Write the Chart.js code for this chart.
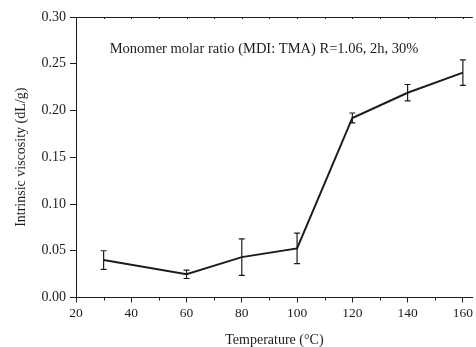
<!DOCTYPE html>
<html>
<head>
<meta charset="utf-8">
<script src="https://cdn.jsdelivr.net/npm/chart.js@4/dist/chart.umd.min.js"></script>
<style>
html,body{margin:0;padding:0;background:#fff;}
#wrap{width:476px;height:347px;position:relative;}
</style>
</head>
<body>
<div id="wrap"><canvas id="c" width="476" height="347"></canvas></div>
<script>
// Data
const temperatures = [30, 60, 80, 100, 120, 140, 160];
const viscosity   = [0.040, 0.0248, 0.0432, 0.0525, 0.192, 0.219, 0.2405];
const errors      = [0.010, 0.0045, 0.0195, 0.0163, 0.0053, 0.0088, 0.0137];
const xTicks = [20, 40, 60, 80, 100, 120, 140, 160];
const xMinorTicks = [30, 50, 70, 90, 110, 130, 150];
const yTicks = [0, 0.05, 0.10, 0.15, 0.20, 0.25, 0.30];
const noteText = 'Monomer molar ratio (MDI: TMA) R=1.06, 2h, 30%';
const xTitle = 'Temperature (°C)';
const yTitle = 'Intrinsic viscosity (dL/g)';

const INK = '#1c1c1c';
const FONT = '"Liberation Serif", "Times New Roman", serif';

const extras = {
  id: 'extras',
  afterDatasetsDraw(chart) {
    const ctx = chart.ctx;
    const xs = chart.scales.x, ys = chart.scales.y;
    const area = chart.chartArea;
    ctx.save();
    // error bars
    ctx.strokeStyle = INK;
    ctx.lineWidth = 1.2;
    temperatures.forEach((t, i) => {
      const px = xs.getPixelForValue(t);
      const yt = ys.getPixelForValue(viscosity[i] + errors[i]);
      const yb = ys.getPixelForValue(viscosity[i] - errors[i]);
      ctx.beginPath();
      ctx.moveTo(px, yt); ctx.lineTo(px, yb);
      ctx.moveTo(px - 3, yt); ctx.lineTo(px + 3, yt);
      ctx.moveTo(px - 3, yb); ctx.lineTo(px + 3, yb);
      ctx.stroke();
    });
    // top border
    ctx.lineWidth = 1;
    ctx.beginPath();
    ctx.moveTo(area.left, area.top + 0.5);
    ctx.lineTo(area.right, area.top + 0.5);
    ctx.stroke();
    // minor x ticks
    ctx.lineWidth = 1;
    ctx.beginPath();
    xMinorTicks.forEach(v => {
      const px = Math.round(xs.getPixelForValue(v)) + 0.5;
      ctx.moveTo(px, area.bottom); ctx.lineTo(px, area.bottom + 3);
    });
    // small inward ticks on top border
    xTicks.concat(xMinorTicks).forEach(v => {
      const px = Math.round(xs.getPixelForValue(v)) + 0.5;
      ctx.moveTo(px, area.top); ctx.lineTo(px, area.top + 2);
    });
    ctx.stroke();
    // annotation
    ctx.fillStyle = INK;
    ctx.font = '14.5px ' + FONT;
    ctx.textAlign = 'left';
    ctx.textBaseline = 'middle';
    ctx.fillText(noteText, xs.getPixelForValue(32.2), ys.getPixelForValue(0.266));
    ctx.restore();
  }
};

new Chart(document.getElementById('c'), {
  type: 'line',
  data: {
    datasets: [{
      data: temperatures.map((t, i) => ({x: t, y: viscosity[i]})),
      borderColor: INK,
      borderWidth: 2,
      pointRadius: 0,
      tension: 0,
      fill: false
    }]
  },
  options: {
    responsive: false,
    animation: false,
    layout: {padding: {left: 0, right: 0, top: 17, bottom: 0}},
    plugins: {legend: {display: false}, tooltip: {enabled: false}},
    scales: {
      x: {
        type: 'linear',
        min: 20, max: 163.6,
        afterBuildTicks: s => { s.ticks = xTicks.map(v => ({value: v})); },
        afterFit: s => { s.height = 49.5; },
        grid: {display: true, drawOnChartArea: false, drawTicks: true, tickLength: 5, color: INK, tickColor: INK},
        border: {display: true, color: INK, width: 1},
        ticks: {color: INK, font: {family: FONT, size: 13.5}, padding: 3, maxRotation: 0, autoSkip: false},
        title: {display: true, text: xTitle, color: INK, font: {family: FONT, size: 14, lineHeight: 1.0}, padding: {top: -1, bottom: 0}}
      },
      y: {
        type: 'linear',
        min: 0, max: 0.30,
        afterBuildTicks: s => { s.ticks = yTicks.map(v => ({value: v})); },
        afterFit: s => { s.width = 76; },
        grid: {display: true, drawOnChartArea: false, drawTicks: true, tickLength: 6, color: INK, tickColor: INK},
        border: {display: true, color: INK, width: 1},
        ticks: {color: INK, font: {family: FONT, size: 14}, padding: 4, callback: v => v.toFixed(2)},
        title: {display: true, text: yTitle, color: INK, font: {family: FONT, size: 14}, padding: {top: 13, bottom: 0}}
      }
    }
  },
  plugins: [extras]
});
</script>
</body>
</html>
